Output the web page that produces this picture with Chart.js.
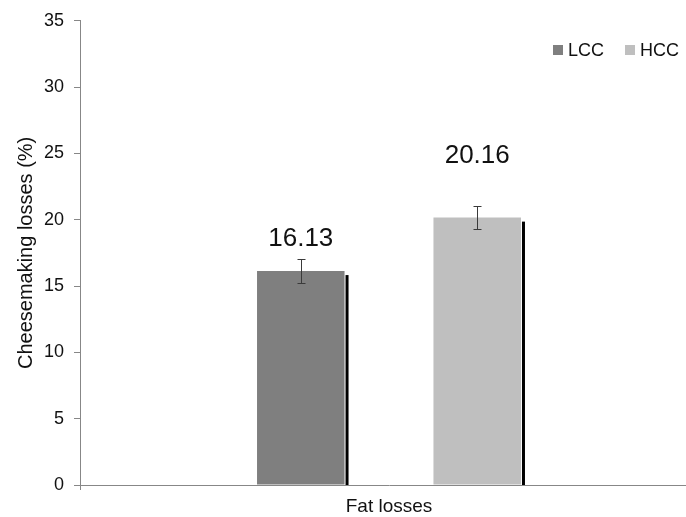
<!DOCTYPE html>
<html>
<head>
<meta charset="utf-8">
<script src="https://cdn.jsdelivr.net/npm/chart.js@4.4.1/dist/chart.umd.min.js"></script>
<style>
  html, body { margin: 0; padding: 0; overflow: hidden; background: #fff; }
  #wrap { width: 686px; height: 517px; overflow: hidden; }
</style>
</head>
<body>
<div id="wrap"><canvas id="chart" width="698" height="517"></canvas></div>
<script>
// Data
const categories = ['Fat losses'];
const seriesNames = ['LCC', 'HCC'];
const lccValues = [16.13];
const hccValues = [20.16];
const lccErrors = [0.9];
const hccErrors = [0.85];
const yTicks = [0, 5, 10, 15, 20, 25, 30, 35];

// Styles
const FONT = "'Liberation Sans', Arial, sans-serif";
const COLORS = ['#7f7f7f', '#bfbfbf'];
const LABEL_OFFSETS = [32, 62]; // value label distance above bar top
const AXIS_COLOR = '#878787';

// Black strip on the right of each bar
const shadowPlugin = {
    id: 'barShadow',
    beforeDatasetsDraw(chart) {
        const ctx = chart.ctx;
        const base = chart.scales.y.getPixelForValue(0);
        ctx.save();
        ctx.fillStyle = '#000';
        chart.data.datasets.forEach((ds, i) => {
            chart.getDatasetMeta(i).data.forEach(bar => {
                const right = bar.x + bar.width / 2;
                ctx.fillRect(right + 1, bar.y + 4, 3, base - bar.y - 4);
            });
        });
        ctx.restore();
    }
};

// Error bars and value labels
const errorPlugin = {
    id: 'errorBars',
    afterDatasetsDraw(chart) {
        const ctx = chart.ctx;
        const y = chart.scales.y;
        ctx.save();
        chart.data.datasets.forEach((ds, i) => {
            chart.getDatasetMeta(i).data.forEach((bar, j) => {
                const v = ds.data[j];
                const e = ds.errors[j];
                const top = Math.round(y.getPixelForValue(v + e)) + 0.5;
                const bot = Math.round(y.getPixelForValue(v - e)) + 0.5;
                const x = Math.round(bar.x) + 0.5;
                ctx.strokeStyle = '#3a3a3a';
                ctx.lineWidth = 1;
                ctx.beginPath();
                ctx.moveTo(x, top); ctx.lineTo(x, bot);
                ctx.moveTo(x - 4, top); ctx.lineTo(x + 4, top);
                ctx.moveTo(x - 4, bot); ctx.lineTo(x + 4, bot);
                ctx.stroke();

                ctx.fillStyle = '#111';
                ctx.font = '26px ' + FONT;
                ctx.textAlign = 'center';
                ctx.textBaseline = 'middle';
                ctx.fillText(v.toFixed(2), bar.x, bar.y - LABEL_OFFSETS[i]);
            });
        });
        ctx.restore();
    }
};

// Legend at top right
const legendPlugin = {
    id: 'cornerLegend',
    afterDraw(chart) {
        const ctx = chart.ctx;
        ctx.save();
        ctx.font = '18px ' + FONT;
        ctx.textBaseline = 'middle';
        ctx.textAlign = 'left';
        let x = 553;
        const cy = 50;
        chart.data.datasets.forEach((ds, i) => {
            ctx.fillStyle = ds.backgroundColor;
            ctx.fillRect(x, cy - 5, 10, 10);
            ctx.fillStyle = '#111';
            ctx.fillText(ds.label, x + 15, cy + 1);
            x += 15 + ctx.measureText(ds.label).width + 21;
        });
        ctx.restore();
    }
};

const ctx = document.getElementById('chart').getContext('2d');
new Chart(ctx, {
    type: 'bar',
    data: {
        labels: categories,
        datasets: [
            { label: seriesNames[0], data: lccValues, errors: lccErrors, backgroundColor: COLORS[0] },
            { label: seriesNames[1], data: hccValues, errors: hccErrors, backgroundColor: COLORS[1] }
        ]
    },
    options: {
        responsive: false,
        animation: false,
        devicePixelRatio: 1,
        categoryPercentage: 0.571,
        barPercentage: 0.496,
        layout: { padding: { top: 17, right: 0, bottom: 0, left: 0 } },
        plugins: {
            legend: { display: false },
            tooltip: { enabled: false }
        },
        scales: {
            x: {
                afterFit(scale) { scale.height = 32; },
                border: { color: AXIS_COLOR },
                grid: { drawOnChartArea: false, tickLength: 5, color: AXIS_COLOR },
                ticks: { color: '#111', font: { family: FONT, size: 19 }, padding: 5 }
            },
            y: {
                min: 0,
                max: 35,
                afterFit(scale) { scale.width = 80; },
                afterBuildTicks(scale) { scale.ticks = yTicks.map(v => ({ value: v })); },
                border: { color: AXIS_COLOR },
                grid: { drawOnChartArea: false, tickLength: 6, color: AXIS_COLOR },
                ticks: { color: '#111', font: { family: FONT, size: 18 }, padding: 10 },
                title: {
                    display: true,
                    text: 'Cheesemaking losses (%)',
                    color: '#111',
                    font: { family: FONT, size: 20 },
                    padding: { top: 14, bottom: 0 }
                }
            }
        }
    },
    plugins: [shadowPlugin, errorPlugin, legendPlugin]
});
</script>
</body>
</html>
